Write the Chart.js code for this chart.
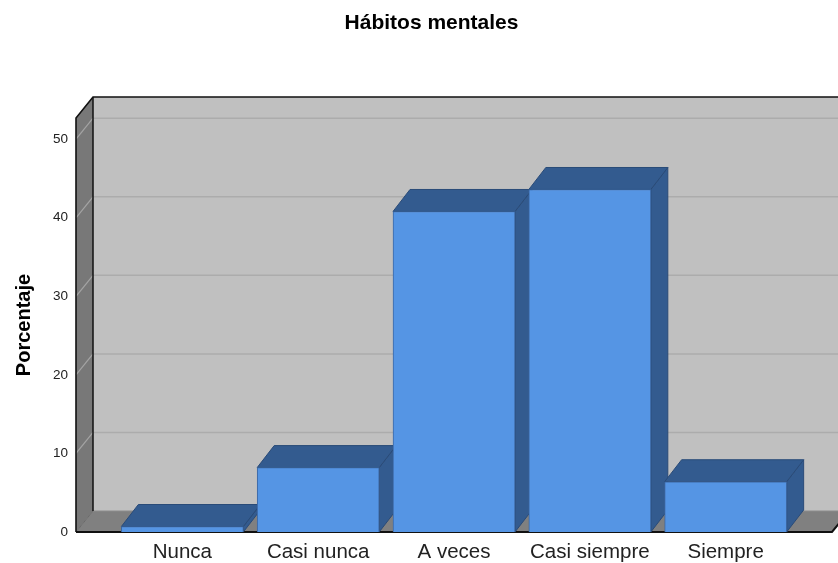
<!DOCTYPE html>
<html>
<head>
<meta charset="utf-8">
<script src="https://cdn.jsdelivr.net/npm/chart.js@4.4.0/dist/chart.umd.min.js"></script>
<style>
  html, body { margin: 0; padding: 0; background: #ffffff; }
  #wrap { width: 838px; height: 563px; position: relative; }
</style>
</head>
<body>
<div id="wrap"><canvas id="c"></canvas></div>
<script>
// ---- data ----
const categories = ['Nunca', 'Casi nunca', 'A veces', 'Casi siempre', 'Siempre'];
const percentages = [0.7, 8.2, 40.8, 43.6, 6.4];
const yTickValues = [0, 10, 20, 30, 40, 50];
const chartTitle = 'Hábitos mentales';
const yTitle = 'Porcentaje';

// ---- styling ----
const FONT = "'Liberation Sans', Arial, Helvetica, sans-serif";
const WALL = { dx: 17, dy: -21 };
const BAR3D = { dx: 17, dy: -22 };

const threeD = {
  id: 'threeD',
  beforeDatasetsDraw(chart) {
    const { ctx, chartArea: a, scales } = chart;
    const ys = scales.y;
    const dx = WALL.dx, dy = WALL.dy;
    const poly = (pts, fill, stroke, lw) => {
      ctx.beginPath();
      ctx.moveTo(pts[0][0], pts[0][1]);
      for (let i = 1; i < pts.length; i++) ctx.lineTo(pts[i][0], pts[i][1]);
      ctx.closePath();
      if (fill) { ctx.fillStyle = fill; ctx.fill(); }
      if (stroke) { ctx.strokeStyle = stroke; ctx.lineWidth = lw || 1; ctx.stroke(); }
    };
    const line = (x1, y1, x2, y2, color, lw) => {
      ctx.beginPath(); ctx.moveTo(x1, y1); ctx.lineTo(x2, y2);
      ctx.strokeStyle = color; ctx.lineWidth = lw; ctx.stroke();
    };
    ctx.save();
    // back wall
    ctx.fillStyle = '#c0c0c0';
    ctx.fillRect(a.left + dx, a.top + dy, a.right - a.left, a.bottom - a.top);
    // left wall
    poly([[a.left, a.top], [a.left + dx, a.top + dy], [a.left + dx, a.bottom + dy], [a.left, a.bottom]], '#787878');
    // grid lines on back wall and left wall
    yTickValues.forEach(v => {
      if (v === 0) return;
      const py = ys.getPixelForValue(v);
      line(a.left + dx, py + dy, a.right + dx, py + dy, '#acacac', 1.5);
      line(a.left, py, a.left + dx, py + dy, '#a4a4a4', 1.2);
    });
    // floor
    poly([[a.left, a.bottom], [a.left + dx, a.bottom + dy], [a.right + dx, a.bottom + dy], [a.right, a.bottom]], '#808080');
    line(a.left + dx, a.bottom + dy, a.right + dx, a.bottom + dy, '#8c8c8c', 1);
    line(a.left, a.bottom, a.left + dx, a.bottom + dy, '#6a6a6a', 1);
    // outlines
    line(a.left + dx, a.top + dy, a.left + dx, a.bottom + dy, '#111', 1.5);
    ctx.beginPath();
    ctx.moveTo(a.left, a.bottom); ctx.lineTo(a.left, a.top); ctx.lineTo(a.left + dx, a.top + dy); ctx.lineTo(a.right + dx + 40, a.top + dy);
    ctx.strokeStyle = '#111'; ctx.lineWidth = 1.6; ctx.stroke();
    ctx.beginPath();
    ctx.moveTo(a.left, a.bottom); ctx.lineTo(a.right, a.bottom); ctx.lineTo(a.right + dx, a.bottom + dy);
    ctx.strokeStyle = '#111'; ctx.lineWidth = 2; ctx.stroke();
    // 3D faces of the bars (top + right side)
    const meta = chart.getDatasetMeta(0);
    meta.data.forEach(bar => {
      const p = bar.getProps(['x', 'y', 'base', 'width'], true);
      const l = p.x - p.width / 2, r = p.x + p.width / 2, t = p.y, b = p.base;
      poly([[r, t], [r + BAR3D.dx, t + BAR3D.dy], [r + BAR3D.dx, b + BAR3D.dy], [r, b]], '#335b8f', '#2a4b78', 1);
      poly([[l, t], [l + BAR3D.dx, t + BAR3D.dy], [r + BAR3D.dx, t + BAR3D.dy], [r, t]], '#335b8f', '#2a4b78', 1);
    });
    ctx.restore();
  }
};

new Chart(document.getElementById('c'), {
  type: 'bar',
  data: {
    datasets: [{
      data: categories.map((c, i) => ({ x: i, y: percentages[i] })),
      backgroundColor: '#5595e4',
      borderColor: '#3c67a2',
      borderWidth: 1,
      borderSkipped: 'bottom',
      barThickness: 122,
      maxBarThickness: 122
    }]
  },
  options: {
    responsive: true,
    maintainAspectRatio: false,
    animation: false,
    devicePixelRatio: 1,
    layout: { padding: { left: 31, right: 6, top: 0, bottom: 0 } },
    plugins: {
      legend: { display: false },
      tooltip: { enabled: false },
      title: {
        display: true,
        text: chartTitle,
        color: '#000',
        font: { family: FONT, size: 21, weight: 'bold' },
        padding: { top: 11, bottom: 81.8 }
      }
    },
    scales: {
      x: {
        type: 'linear',
        offset: false,
        min: -0.783,
        max: 4.783,
        grid: { display: false, drawTicks: false, offset: false },
        border: { display: false },
        afterBuildTicks: s => { s.ticks = categories.map((c, i) => ({ value: i })); },
        afterFit: s => { s.height = 31; },
        ticks: {
          padding: 8,
          autoSkip: false,
          maxRotation: 0,
          color: '#222',
          font: { family: FONT, size: 20.5 },
          callback: v => categories[v]
        }
      },
      y: {
        min: 0,
        max: 52.7,
        grid: { display: false, drawTicks: false },
        border: { display: false },
        afterBuildTicks: s => { s.ticks = yTickValues.map(v => ({ value: v })); },
        afterFit: s => { s.width = 45; },
        ticks: {
          padding: 8,
          color: '#222',
          font: { family: FONT, size: 13.5 }
        },
        title: {
          display: true,
          text: yTitle,
          color: '#000',
          font: { family: FONT, size: 20, weight: 'bold' },
          padding: { top: -19, bottom: 0 }
        }
      }
    }
  },
  plugins: [threeD]
});
</script>
</body>
</html>
